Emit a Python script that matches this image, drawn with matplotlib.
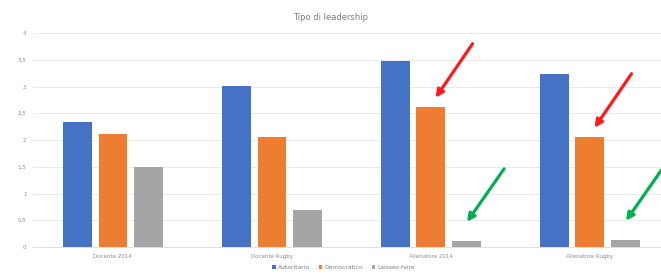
import numpy as np
import matplotlib.pyplot as plt

# Dati
categorie = ["Docente 2014", "Docente Rugby", "Allenatore 2014", "Allenatore Rugby"]
serie = ["Autoritario", "Democratico", "Laissez-faire"]
autoritario = [2.34, 3.01, 3.48, 3.23]
democratico = [2.12, 2.06, 2.62, 2.06]
laissez = [1.50, 0.70, 0.12, 0.14]

colori = ["#4472C4", "#ED7D31", "#A5A5A5"]
valori = [autoritario, democratico, laissez]

fig = plt.figure(figsize=(6.61, 2.74), dpi=100)
ax = fig.add_axes([0.0505, 0.0985, 0.962, 0.781])

x = np.arange(len(categorie))
w = 0.18
offs = [-0.223, 0.0, 0.223]
for vals, off, c, name in zip(valori, offs, colori, serie):
    ax.bar(x + off, vals, width=w, color=c, label=name, zorder=3)

ax.set_xlim(-0.5, 3.5)
ax.set_ylim(0, 4)
ax.set_yticks(np.arange(0, 4.01, 0.5))
ax.set_yticklabels(["0", "0,5", "1", "1,5", "2", "2,5", "3", "3,5", "4"])
ax.set_xticks(x)
ax.set_xticklabels(categorie)
ax.tick_params(axis="both", labelsize=4, colors="#8c8c8c", length=0, pad=5)
ax.grid(axis="y", color="#e6e6e6", linewidth=0.6, zorder=0)
for s in ["top", "right", "left"]:
    ax.spines[s].set_visible(False)
ax.spines["bottom"].set_color("#d9d9d9")
ax.spines["bottom"].set_linewidth(0.6)

fig.text(0.5, 0.935, "Tipo di leadership", ha="center", va="center",
         fontsize=6, color="#7f7f7f")

fig.legend(loc="center", bbox_to_anchor=(0.52, 0.022), ncol=3, frameon=False,
           fontsize=4.3, handlelength=0.6, handleheight=0.6, handletextpad=0.4,
           columnspacing=1.4, labelcolor="#7f7f7f")

# Frecce di evidenziazione (rosse sulle barre arancioni, verdi su quelle grigie)
for i in [2, 3]:
    ax.annotate("", xy=(x[i] + 0.03, democratico[i] + 0.17),
                xytext=(37, 54), textcoords="offset pixels",
                arrowprops=dict(arrowstyle="-|>", color="#ff1a1a", lw=2.3,
                                mutation_scale=11, shrinkA=0, shrinkB=0))
    ax.annotate("", xy=(x[i] + 0.223 + 0.005, laissez[i] + 0.35),
                xytext=(37, 53), textcoords="offset pixels",
                arrowprops=dict(arrowstyle="-|>", color="#00b050", lw=2.3,
                                mutation_scale=11, shrinkA=0, shrinkB=0),
                annotation_clip=False)

fig.savefig("out.png", dpi=100)
